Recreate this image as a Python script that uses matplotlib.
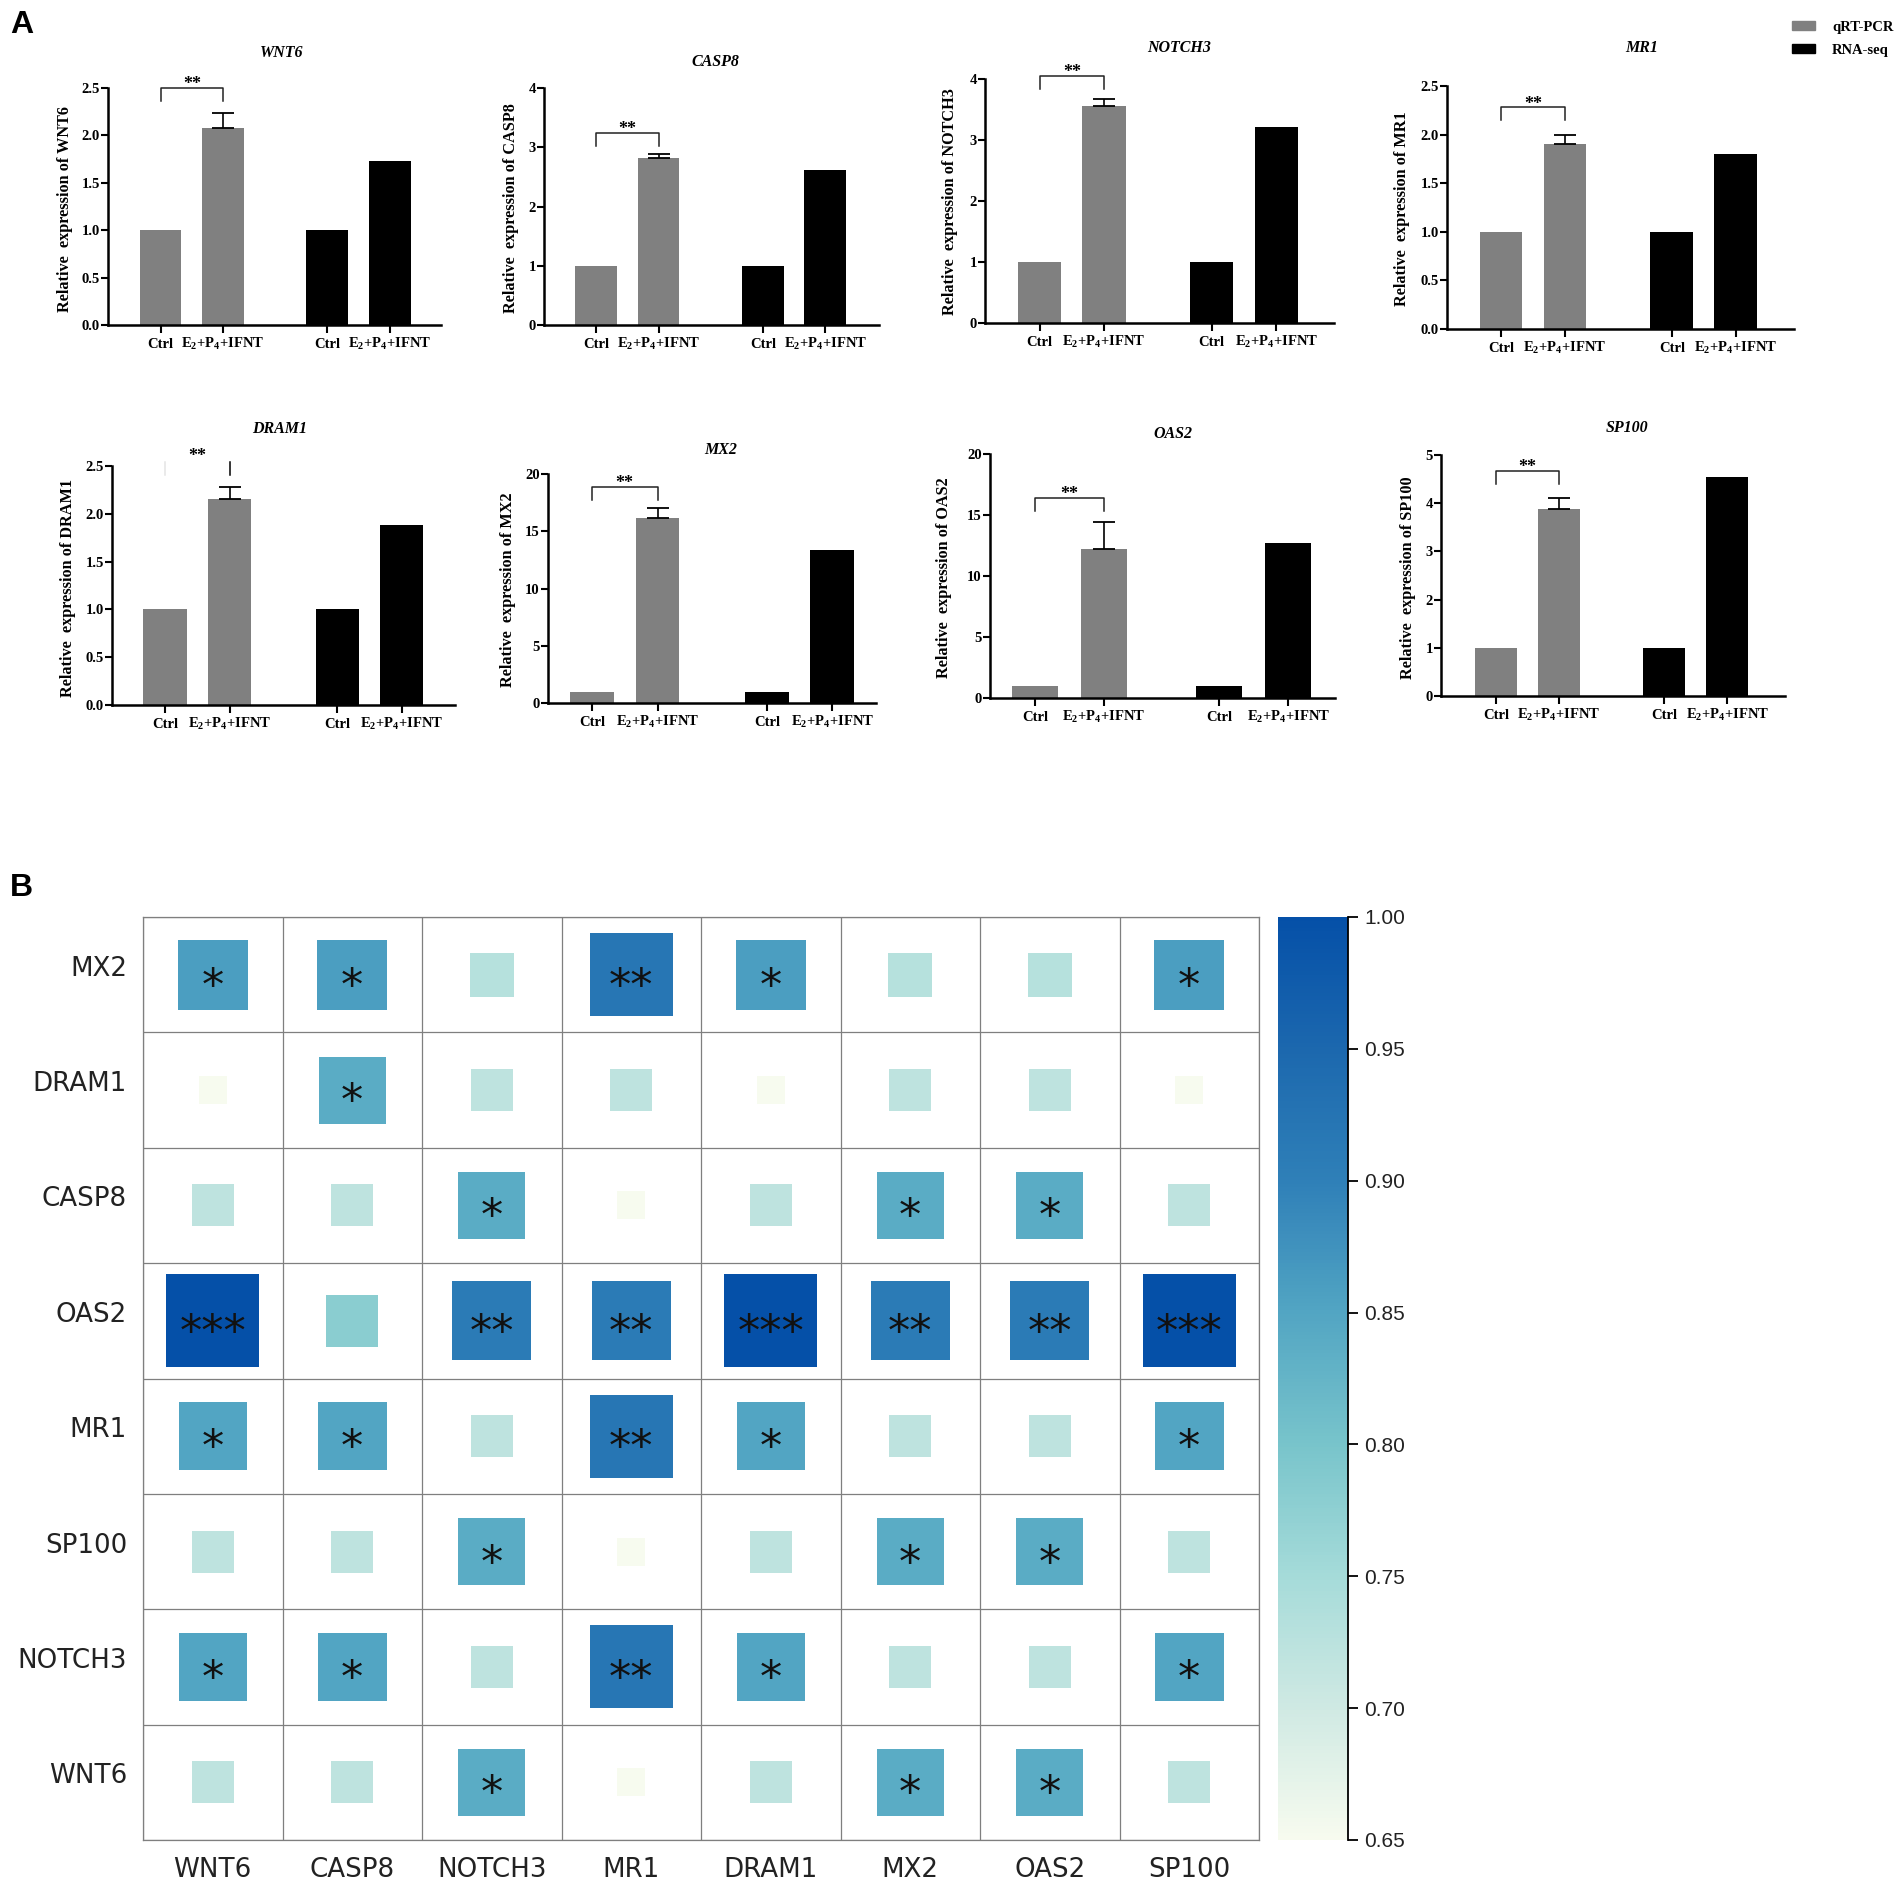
import matplotlib
matplotlib.use('Agg')
import matplotlib.pyplot as plt
import numpy as np
from matplotlib.colors import LinearSegmentedColormap
from matplotlib.cm import ScalarMappable
from matplotlib.patches import Patch
from matplotlib.transforms import ScaledTranslation

W, H = 1902, 1884
DPI = 100

plt.rcParams['mathtext.fontset'] = 'custom'
plt.rcParams['mathtext.rm'] = 'Liberation Serif:bold'
plt.rcParams['mathtext.default'] = 'rm'

# ---- panel A data ----
genes_a = ['WNT6', 'CASP8', 'NOTCH3', 'MR1', 'DRAM1', 'MX2', 'OAS2', 'SP100']
qpcr_values = [2.08, 2.82, 3.55, 1.90, 2.15, 16.15, 12.2, 3.87]
qpcr_errors = [0.16, 0.07, 0.12, 0.10, 0.13, 0.85, 2.2, 0.23]
rnaseq_values = [1.73, 2.62, 3.22, 1.80, 1.88, 13.4, 12.7, 4.55]
ctrl_value = 1.0
y_max = [2.5, 4, 4, 2.5, 2.5, 20, 20, 5]
y_step = [0.5, 1, 1, 0.5, 0.5, 5, 5, 1]
y_fmt = ['%.1f', '%d', '%d', '%.1f', '%.1f', '%d', '%d', '%d']
bracket_y = [2.5, 3.24, 4.05, 2.28, 2.54, 18.9, 16.4, 4.67]
bar_labels = ['Ctrl', r'$\mathrm{E_2{+}P_4{+}IFNT}$', 'Ctrl', r'$\mathrm{E_2{+}P_4{+}IFNT}$']
bar_pos = [0, 1, 2.67, 3.67]

# layout of panel A in pixels: left, right, top, bottom, first bar centre, bar pitch
boxes = [(108, 441, 88, 325, 160.5, 62.5), (544, 879, 88, 325, 596, 62.5),
         (985, 1334, 79, 323, 1039.5, 64.5), (1447, 1794, 86, 329, 1501, 64),
         (112, 455, 466, 705, 165, 64.5), (548, 876, 474, 703, 592, 65.5),
         (990, 1335, 454, 698, 1035, 69), (1441, 1785, 455, 696, 1496, 63)]
title_xy = [(282, 53), (715, 62), (1179, 48), (1642, 48),
            (280, 429), (721, 450), (1173, 434), (1627, 428)]
ylabel_xy = [(65, 209), (511, 208), (950, 202), (1402, 209),
             (68, 588), (508, 590), (944, 578), (1408, 578)]

# ---- panel B data ----
cols_b = ['WNT6', 'CASP8', 'NOTCH3', 'MR1', 'DRAM1', 'MX2', 'OAS2', 'SP100']
rows_b = ['MX2', 'DRAM1', 'CASP8', 'OAS2', 'MR1', 'SP100', 'NOTCH3', 'WNT6']
corr = [[0.86, 0.86, 0.73, 0.92, 0.86, 0.73, 0.73, 0.86],
        [0.65, 0.84, 0.72, 0.72, 0.65, 0.72, 0.72, 0.65],
        [0.72, 0.72, 0.84, 0.65, 0.72, 0.84, 0.84, 0.72],
        [1.00, 0.78, 0.91, 0.91, 1.00, 0.91, 0.91, 1.00],
        [0.85, 0.85, 0.72, 0.92, 0.85, 0.72, 0.72, 0.85],
        [0.72, 0.72, 0.84, 0.65, 0.72, 0.84, 0.84, 0.72],
        [0.85, 0.85, 0.72, 0.92, 0.85, 0.72, 0.72, 0.85],
        [0.72, 0.72, 0.84, 0.65, 0.72, 0.84, 0.84, 0.72]]
stars = [['*', '*', '', '**', '*', '', '', '*'],
         ['', '*', '', '', '', '', '', ''],
         ['', '', '*', '', '', '*', '*', ''],
         ['***', '', '**', '**', '***', '**', '**', '***'],
         ['*', '*', '', '**', '*', '', '', '*'],
         ['', '', '*', '', '', '*', '*', ''],
         ['*', '*', '', '**', '*', '', '', '*'],
         ['', '', '*', '', '', '*', '*', '']]
cbar_ticks = [0.65, 0.70, 0.75, 0.80, 0.85, 0.90, 0.95, 1.00]

# square side in pixels grows with the correlation
size_val = [0.65, 0.72, 0.73, 0.78, 0.84, 0.86, 0.91, 0.92, 1.0]
size_px = [28, 42, 44, 52, 67, 70, 79, 83, 93]

cmap = LinearSegmentedColormap.from_list('corr', [
    (0.0, '#f7fbef'), (1 / 7, '#cfe9e3'), (2 / 7, '#a5dbd9'), (3 / 7, '#78c4cb'),
    (4 / 7, '#52a5c3'), (5 / 7, '#2f80b8'), (6 / 7, '#1c68ae'), (1.0, '#0550a8')])


def px_axes(fig, left, right, top, bottom):
    return fig.add_axes([left / W, 1 - bottom / H, (right - left) / W, (bottom - top) / H])


fig = plt.figure(figsize=(W / DPI, H / DPI), dpi=DPI)
serif = dict(family='Liberation Serif', weight='bold')

# panel A
for i, gene in enumerate(genes_a):
    left, right, top, bottom, c0, pitch = boxes[i]
    ax = px_axes(fig, left, right, top, bottom)
    ax.patch.set_alpha(0)
    vals = [ctrl_value, qpcr_values[i], ctrl_value, rnaseq_values[i]]
    ax.bar(bar_pos, vals, width=0.67, color=['#808080', '#808080', 'black', 'black'])
    ax.errorbar([bar_pos[1]], [qpcr_values[i]], yerr=[[0], [qpcr_errors[i]]], color='black',
                elinewidth=1.2, capsize=8, capthick=1.3)
    ax.set_xlim((left - c0) / pitch, (right - c0) / pitch)
    ax.set_ylim(0, y_max[i])
    ax.set_xticks(bar_pos)
    ax.set_xticklabels(bar_labels, fontsize=10.5, va='baseline', **serif)
    ticks = np.arange(0, y_max[i] + y_step[i] / 2, y_step[i])
    ax.set_yticks(ticks)
    ax.set_yticklabels([y_fmt[i] % t for t in ticks], fontsize=10.5, **serif)
    ax.tick_params(axis='x', length=6, width=1.5, pad=10.5)
    ax.tick_params(axis='y', length=5, width=1.5, pad=1)
    for s in ['top', 'right']:
        ax.spines[s].set_visible(False)
    for s in ['left', 'bottom']:
        ax.spines[s].set_linewidth(1.8)

    # significance bracket
    drop = 13 / (bottom - top) * y_max[i]
    by = bracket_y[i]
    if gene == 'DRAM1':
        ax.plot([1, 1], [by, by - drop], color='black', lw=1.1, clip_on=False)
        ax.plot([0, 0], [by, by - drop], color='#e4e4e4', lw=1.1, clip_on=False)
        ax.annotate('**', (0.5, by), xytext=(0, 1), textcoords='offset points', ha='center',
                    va='baseline', fontsize=13, annotation_clip=False, **serif)
    else:
        ax.plot([0, 0, 1, 1], [by - drop, by, by, by - drop], color='#222222', lw=1.1, clip_on=False)
        ax.annotate('**', (0.5, by), xytext=(0, -1), textcoords='offset points', ha='center',
                    va='baseline', fontsize=13, annotation_clip=False, **serif)

    fig.text(title_xy[i][0] / W, 1 - title_xy[i][1] / H, gene, ha='center', va='center',
             fontsize=11.5, style='italic', **serif)
    fig.text(ylabel_xy[i][0] / W, 1 - ylabel_xy[i][1] / H, 'Relative  expression of ' + gene,
             rotation=90, ha='center', va='center', fontsize=11.7, **serif)

fig.legend(handles=[Patch(color='#808080', label='qRT-PCR'), Patch(color='black', label='RNA-seq')],
           loc='upper left', bbox_to_anchor=(1780 / W, 1 - 9 / H), frameon=False,
           handlelength=1.62, handleheight=0.55, labelspacing=0.7, handletextpad=1.15,
           borderpad=0.3, prop=dict(family='Liberation Serif', weight='bold', size=10.5))

fig.text(10 / W, 1 - 33 / H, 'A', fontsize=23, family='Liberation Sans', weight='bold')
fig.text(10 / W, 1 - 896 / H, 'B', fontsize=23, family='Liberation Sans', weight='bold')

# panel B
ax2 = px_axes(fig, 143, 1259, 917, 1840)
corr = np.array(corr)
yy, xx = np.mgrid[0:8, 0:8]
side_pt = np.interp(corr, size_val, size_px) * 72 / DPI
ax2.scatter(xx.ravel() + 0.5, yy.ravel() + 0.5, s=side_pt.ravel() ** 2, c=corr.ravel(), cmap=cmap,
            vmin=0.65, vmax=1.0, marker='s', linewidths=0, zorder=2)
for r in range(8):
    for c in range(8):
        if stars[r][c]:
            ax2.annotate(stars[r][c], (c + 0.5, r + 0.5), xytext=(0, -18), textcoords='offset points',
                         ha='center', va='baseline', fontsize=32, color='#111111', zorder=3)
ax2.set_xlim(0, 8)
ax2.set_ylim(8, 0)
ax2.set_xticks(np.arange(8) + 0.5)
ax2.set_xticklabels(cols_b, fontsize=18.8, color='#222222')
ax2.set_yticks(np.arange(8) + 0.5)
ax2.set_yticklabels(rows_b, fontsize=18.8, color='#222222')
ax2.tick_params(axis='both', length=0)
ax2.tick_params(axis='x', pad=12)
ax2.tick_params(axis='y', pad=11.5)
up = ScaledTranslation(0, 9 / DPI, fig.dpi_scale_trans)
for lab in ax2.get_yticklabels():
    lab.set_transform(lab.get_transform() + up)
ax2.set_xticks(np.arange(9), minor=True)
ax2.set_yticks(np.arange(9), minor=True)
ax2.tick_params(which='minor', length=0)
ax2.grid(which='minor', color='#7f7f7f', lw=0.9)
ax2.set_axisbelow(True)
for s in ax2.spines.values():
    s.set_color('#7f7f7f')
    s.set_linewidth(0.9)

cax = px_axes(fig, 1278, 1348, 917, 1840)
sm = ScalarMappable(cmap=cmap, norm=plt.Normalize(0.65, 1.0))
cb = fig.colorbar(sm, cax=cax, ticks=cbar_ticks)
cb.ax.set_yticklabels(['%.2f' % t for t in cbar_ticks], family='Liberation Sans', fontsize=15, color='#222222')
cb.outline.set_visible(False)
cax.spines['right'].set_visible(True)
cax.spines['right'].set_linewidth(1.3)
cax.tick_params(length=7, width=1.3, pad=4.5)

fig.savefig('out.png', dpi=DPI)
